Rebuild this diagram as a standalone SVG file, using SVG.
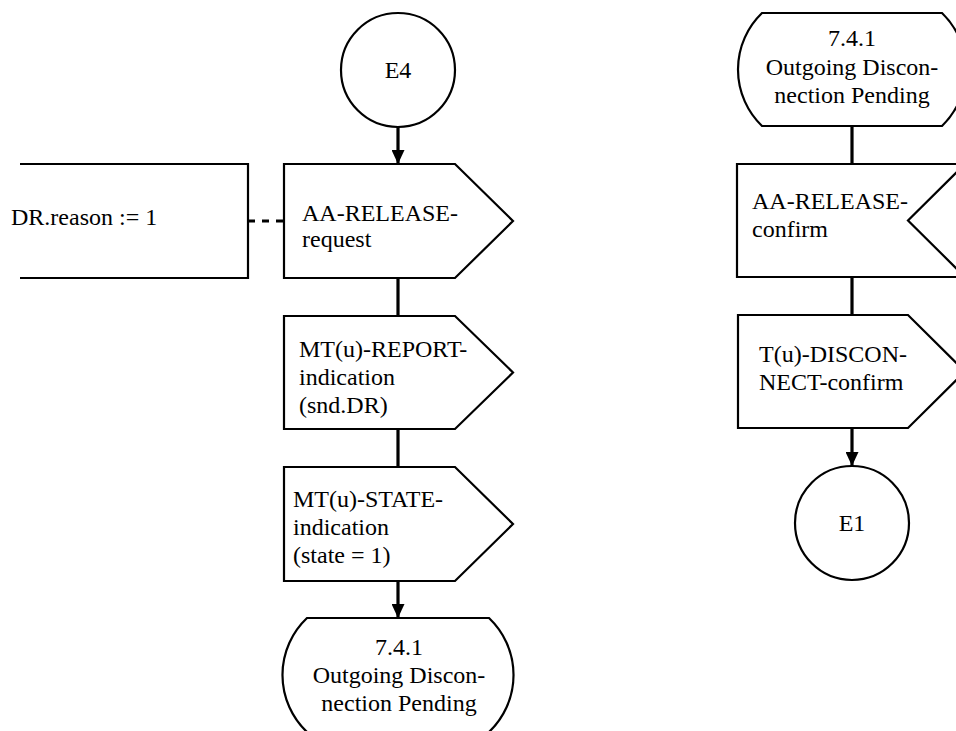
<svg xmlns="http://www.w3.org/2000/svg" width="956" height="731" viewBox="0 0 956 731">
  <style>
    .shape { fill: #ffffff; stroke: #000000; stroke-width: 2.2; stroke-linejoin: miter; }
    .conn { fill: none; stroke: #000000; stroke-width: 3.2; }
    .dash { fill: none; stroke: #000000; stroke-width: 3; stroke-dasharray: 7 7; }
    .c { text-anchor: middle; }
  </style>
  <defs>
    <marker id="arrow" viewBox="0 0 14 13" refX="14" refY="6.5" markerWidth="14" markerHeight="13" markerUnits="userSpaceOnUse" orient="auto">
      <path d="M0,0 L14,6.5 L0,13 Z" fill="#000000"/>
    </marker>
  </defs>

  <rect width="956" height="731" fill="#ffffff"/>

  <!-- flow lines -->
  <g id="connectors">
    <line class="conn" x1="398" y1="127" x2="398" y2="164" marker-end="url(#arrow)"/>
    <line class="conn" x1="398" y1="278" x2="398" y2="316"/>
    <line class="conn" x1="398" y1="429" x2="398" y2="467"/>
    <line class="conn" x1="398" y1="581" x2="398" y2="618" marker-end="url(#arrow)"/>
    <line class="dash" x1="248" y1="221" x2="284" y2="221"/>
    <line class="conn" x1="852" y1="126" x2="852" y2="164"/>
    <line class="conn" x1="852" y1="277" x2="852" y2="315"/>
    <line class="conn" x1="852" y1="428" x2="852" y2="466" marker-end="url(#arrow)"/>
  </g>

  <!-- left column -->
  <g id="e4">
    <circle class="shape" cx="398" cy="70" r="57"/>
    <text class="c" x="398" y="78" font-family="Times New Roman" font-size="24">E4</text>
  </g>

  <g id="task-dr-reason">
    <path class="shape" d="M20,164 L248,164 L248,278 L20,278" fill="none"/>
    <text x="11" y="225" font-family="Times New Roman" font-size="24">DR.reason := 1</text>
  </g>

  <g id="out-aa-release-request">
    <path class="shape" d="M284,164 L455,164 L513,221 L455,278 L284,278 Z"/>
    <text x="302" y="221" font-family="Times New Roman" font-size="24">AA-RELEASE-</text>
    <text x="302" y="247" font-family="Times New Roman" font-size="24">request</text>
  </g>

  <g id="out-mt-report">
    <path class="shape" d="M284,316 L455,316 L513,372.5 L455,429 L284,429 Z"/>
    <text x="299" y="357" font-family="Times New Roman" font-size="24">MT(u)-REPORT-</text>
    <text x="299" y="385" font-family="Times New Roman" font-size="24">indication</text>
    <text x="299" y="413" font-family="Times New Roman" font-size="24">(snd.DR)</text>
  </g>

  <g id="out-mt-state">
    <path class="shape" d="M284,467 L455,467 L513,524 L455,581 L284,581 Z"/>
    <text x="293" y="507" font-family="Times New Roman" font-size="24">MT(u)-STATE-</text>
    <text x="293" y="535" font-family="Times New Roman" font-size="24">indication</text>
    <text x="293" y="563" font-family="Times New Roman" font-size="24">(state = 1)</text>
  </g>

  <g id="state-bottom">
    <path class="shape" d="M307,618 L489,618 A78.5,78.5 0 0 1 489,732 L307,732 A78.5,78.5 0 0 1 307,618 Z"/>
    <text class="c" x="399" y="655" font-family="Times New Roman" font-size="24">7.4.1</text>
    <text class="c" x="399" y="683" font-family="Times New Roman" font-size="24">Outgoing Discon-</text>
    <text class="c" x="399" y="711" font-family="Times New Roman" font-size="24">nection Pending</text>
  </g>

  <!-- right column -->
  <g id="state-top">
    <path class="shape" d="M762,13 L942,13 A78.5,78.5 0 0 1 942,126 L762,126 A78.5,78.5 0 0 1 762,13 Z"/>
    <text class="c" x="852" y="46" font-family="Times New Roman" font-size="24">7.4.1</text>
    <text class="c" x="852" y="75" font-family="Times New Roman" font-size="24">Outgoing Discon-</text>
    <text class="c" x="852" y="103" font-family="Times New Roman" font-size="24">nection Pending</text>
  </g>

  <g id="in-aa-release-confirm">
    <path class="shape" d="M737,164 L965,164 L908,220.5 L965,277 L737,277 Z"/>
    <text x="752" y="209" font-family="Times New Roman" font-size="24">AA-RELEASE-</text>
    <text x="752" y="237" font-family="Times New Roman" font-size="24">confirm</text>
  </g>

  <g id="out-t-disconnect">
    <path class="shape" d="M738,315 L908,315 L965,371.5 L908,428 L738,428 Z"/>
    <text x="759" y="362" font-family="Times New Roman" font-size="24">T(u)-DISCON-</text>
    <text x="759" y="390" font-family="Times New Roman" font-size="24">NECT-confirm</text>
  </g>

  <g id="e1">
    <circle class="shape" cx="852" cy="523" r="57"/>
    <text class="c" x="852" y="531" font-family="Times New Roman" font-size="24">E1</text>
  </g>
</svg>
